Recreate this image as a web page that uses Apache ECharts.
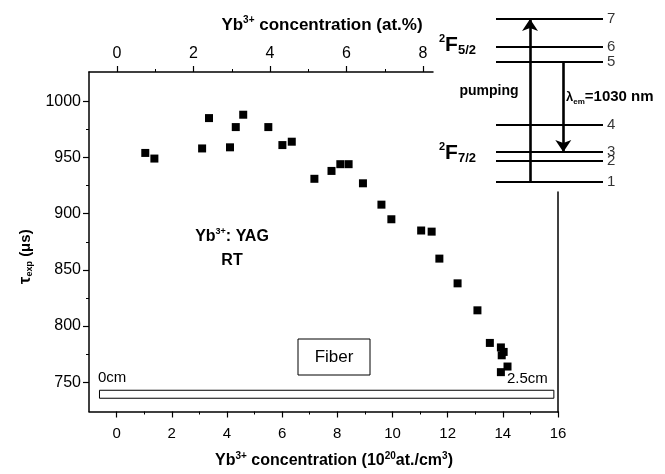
<!DOCTYPE html>
<html>
<head>
<meta charset="utf-8">
<script src="https://cdn.jsdelivr.net/npm/echarts@6/dist/echarts.min.js"></script>
<style>
html,body{margin:0;padding:0;background:#fff;}
#chart{width:665px;height:474px;}
</style>
</head>
<body>
<div id="chart"></div>
<script>
// ---- data ----
const concentration = [1.04, 1.37, 3.10, 3.35, 4.11, 4.32, 4.59, 5.50, 6.01, 6.35,
  7.17, 7.79, 8.11, 8.41, 8.93, 9.60, 9.96, 11.04, 11.42, 11.70,
  12.36, 13.08, 13.53, 13.93, 14.03, 13.96, 14.17, 13.93];
const lifetime = [954, 949, 958, 985, 959, 977, 988, 977, 961, 964,
  931, 938, 944, 944, 927, 908, 895, 885, 884, 860,
  838, 814, 785, 781, 777, 774, 764, 759];
const bottomTicks = [0, 2, 4, 6, 8, 10, 12, 14, 16];
const bottomMinor = [1, 3, 5, 7, 9, 11, 13, 15];
const topTicks = [0, 2, 4, 6, 8];
const topMinor = [1, 3, 5, 7];
const yTicks = [750, 800, 850, 900, 950, 1000];
const yMinor = [775, 825, 875, 925, 975];
const levelNames = ['1', '2', '3', '4', '5', '6', '7'];
const levelHeights = [0, 21, 30, 57, 120, 135, 163];   // schematic level positions
const fiberRod = [[-0.62, 742.9], [15.85, 735.8]];

const FONT = "'Liberation Sans', Arial, sans-serif";
const K = '#000';

const richTitle = {
  b: {fontFamily: FONT, fontWeight: 'bold', fontSize: 16, color: K, lineHeight: 19},
  sup: {fontFamily: FONT, fontWeight: 'bold', fontSize: 10, color: K, lineHeight: 10, verticalAlign: 'top'}
};
const richTitleTop = {
  b: {fontFamily: FONT, fontWeight: 'bold', fontSize: 17, color: K, lineHeight: 20},
  sup: {fontFamily: FONT, fontWeight: 'bold', fontSize: 10, color: K, lineHeight: 10, verticalAlign: 'top'}
};
const plain = v => String(v);

const chart = echarts.init(document.getElementById('chart'), null, {renderer: 'canvas'});

const pts = concentration.map((c, i) => [c, lifetime[i]]);

const option = {
  animation: false,
  backgroundColor: '#fff',
  grid: [
    {left: 89, right: 107, top: 72, bottom: 62},
    {left: 89, width: 344, top: 72, bottom: 62},
    {left: 496, width: 107, top: 19, height: 163},
    {left: 89, right: 107, top: 192, bottom: 62}
  ],
  xAxis: [
    {
      gridIndex: 0, type: 'value', position: 'bottom', min: -1, max: 16,
      axisLine: {show: true, onZero: false, lineStyle: {color: K, width: 1.5}},
      axisTick: {show: true, customValues: bottomTicks, length: 6, lineStyle: {color: K, width: 1.2}},
      axisLabel: {customValues: bottomTicks, formatter: plain, fontFamily: FONT, fontSize: 15, color: K, margin: 15},
      splitLine: {show: false},
      name: '{b|Yb}{sup|3+}{b| concentration (10}{sup|20}{b|at./cm}{sup|3}{b|)}',
      nameLocation: 'middle', nameGap: 40,
      nameTextStyle: {rich: richTitle, padding: [0, 0, 0, 21]}
    },
    {
      gridIndex: 0, type: 'value', position: 'bottom', min: -1, max: 16,
      axisLine: {show: false, onZero: false},
      axisTick: {show: true, customValues: bottomMinor, length: 3, lineStyle: {color: K, width: 1}},
      axisLabel: {show: false}, splitLine: {show: false}
    },
    {
      gridIndex: 1, type: 'value', position: 'top', min: -0.732, max: 8.261,
      axisLine: {show: true, onZero: false, lineStyle: {color: K, width: 1.5}},
      axisTick: {show: true, customValues: topTicks, length: 6, lineStyle: {color: K, width: 1.2}},
      axisLabel: {customValues: topTicks, formatter: plain, fontFamily: FONT, fontSize: 16, color: K, margin: 10},
      splitLine: {show: false},
      name: '{b|Yb}{sup|3+}{b| concentration (at.%)}',
      nameLocation: 'middle', nameGap: 37,
      nameTextStyle: {rich: richTitleTop, padding: [0, 0, 0, 122]}
    },
    {
      gridIndex: 1, type: 'value', position: 'top', min: -0.732, max: 8.261,
      axisLine: {show: false, onZero: false},
      axisTick: {show: true, customValues: topMinor, length: 3, lineStyle: {color: K, width: 1}},
      axisLabel: {show: false}, splitLine: {show: false}
    },
    {gridIndex: 2, type: 'value', min: 0, max: 1, show: false},
    {gridIndex: 3, type: 'value', min: 0, max: 1, show: false}
  ],
  yAxis: [
    {
      gridIndex: 0, type: 'value', position: 'left', min: 724, max: 1026,
      axisLine: {show: true, onZero: false, lineStyle: {color: K, width: 1.5}},
      axisTick: {show: true, customValues: yTicks, length: 6, lineStyle: {color: K, width: 1.2}},
      axisLabel: {customValues: yTicks, formatter: plain, fontFamily: FONT, fontSize: 16, color: K, margin: 8},
      splitLine: {show: false},
      name: '{t|τ}{sub|exp}{b| (μs)}',
      nameLocation: 'middle', nameGap: 54,
      nameTextStyle: {
        padding: [0, 30, 0, 0],
        rich: {
          t: {fontFamily: FONT, fontWeight: 'bold', fontSize: 17, color: K, lineHeight: 18},
          sub: {fontFamily: FONT, fontWeight: 'bold', fontSize: 9, color: K, lineHeight: 9, verticalAlign: 'bottom'},
          b: {fontFamily: FONT, fontWeight: 'bold', fontSize: 15, color: K, lineHeight: 18}
        }
      }
    },
    {
      gridIndex: 0, type: 'value', position: 'left', min: 724, max: 1026,
      axisLine: {show: false, onZero: false},
      axisTick: {show: true, customValues: yMinor, length: 3, lineStyle: {color: K, width: 1}},
      axisLabel: {show: false}, splitLine: {show: false}
    },
    {gridIndex: 1, type: 'value', min: 0, max: 1, show: false},
    {gridIndex: 2, type: 'value', min: 0, max: 163, show: false},
    {
      gridIndex: 3, type: 'value', position: 'right', min: 0, max: 1,
      axisLine: {show: true, onZero: false, lineStyle: {color: K, width: 1.5}},
      axisTick: {show: false}, axisLabel: {show: false}, splitLine: {show: false}
    }
  ],
  series: [
    {
      type: 'scatter', xAxisIndex: 0, yAxisIndex: 0,
      symbol: 'rect', symbolSize: 8,
      itemStyle: {color: K, opacity: 1},
      data: pts,
      markArea: {
        silent: true,
        itemStyle: {color: '#fff', borderColor: K, borderWidth: 1, opacity: 1},
        data: [[{coord: fiberRod[0]}, {coord: fiberRod[1]}]]
      },
      z: 5
    },
    {
      type: 'lines', coordinateSystem: 'cartesian2d', xAxisIndex: 4, yAxisIndex: 3,
      polyline: false, symbol: ['none', 'none'],
      lineStyle: {color: K, width: 2.2, opacity: 1},
      data: levelHeights.map(h => ({coords: [[0, h], [1, h]]}))
    },
    {
      type: 'scatter', xAxisIndex: 4, yAxisIndex: 3, symbolSize: 0,
      itemStyle: {color: 'rgba(0,0,0,0)'},
      label: {show: true, position: 'right', distance: 4, formatter: p => p.name,
        fontFamily: FONT, fontSize: 15, color: K},
      data: levelHeights.map((h, i) => ({name: levelNames[i], value: [1, h]}))
    },
    {
      type: 'lines', coordinateSystem: 'cartesian2d', xAxisIndex: 4, yAxisIndex: 3,
      polyline: false, symbol: ['none', 'arrow'], symbolSize: [9, 12],
      lineStyle: {color: K, width: 2.6, opacity: 1},
      data: [
        {coords: [[0.318, levelHeights[0]], [0.318, levelHeights[6]]]},
        {coords: [[0.629, levelHeights[4]], [0.629, levelHeights[2]]]}
      ]
    }
  ],
  graphic: [
    {type: 'text', style: {text: 'pumping', x: 489, y: 91, align: 'center', verticalAlign: 'middle',
      font: "bold 14px 'Liberation Sans', Arial", fill: K}},
    {type: 'text', style: {
      text: '{l|λ}{s|em}{b|=1030 nm}', x: 566, y: 97, align: 'left', verticalAlign: 'middle',
      rich: {
        l: {fontFamily: FONT, fontWeight: 'bold', fontSize: 13, fill: K, lineHeight: 16},
        s: {fontFamily: FONT, fontWeight: 'bold', fontSize: 8, fill: K, lineHeight: 8, verticalAlign: 'bottom'},
        b: {fontFamily: FONT, fontWeight: 'bold', fontSize: 15, fill: K, lineHeight: 17}
      }}},
    {type: 'text', style: {
      text: '{p|2}{f|F}{s|5/2}', x: 439, y: 45, align: 'left', verticalAlign: 'middle',
      rich: {
        p: {fontFamily: FONT, fontWeight: 'bold', fontSize: 11, fill: K, lineHeight: 11, verticalAlign: 'top'},
        f: {fontFamily: FONT, fontWeight: 'bold', fontSize: 21, fill: K, lineHeight: 24},
        s: {fontFamily: FONT, fontWeight: 'bold', fontSize: 13, fill: K, lineHeight: 13, verticalAlign: 'bottom'}
      }}},
    {type: 'text', style: {
      text: '{p|2}{f|F}{s|7/2}', x: 439, y: 153, align: 'left', verticalAlign: 'middle',
      rich: {
        p: {fontFamily: FONT, fontWeight: 'bold', fontSize: 11, fill: K, lineHeight: 11, verticalAlign: 'top'},
        f: {fontFamily: FONT, fontWeight: 'bold', fontSize: 21, fill: K, lineHeight: 24},
        s: {fontFamily: FONT, fontWeight: 'bold', fontSize: 13, fill: K, lineHeight: 13, verticalAlign: 'bottom'}
      }}},
    {type: 'text', style: {
      text: '{b|Yb}{sup|3+}{b|: YAG}', x: 232, y: 237, align: 'center', verticalAlign: 'middle',
      rich: {
        b: {fontFamily: FONT, fontWeight: 'bold', fontSize: 16, fill: K, lineHeight: 19},
        sup: {fontFamily: FONT, fontWeight: 'bold', fontSize: 9, fill: K, lineHeight: 9, verticalAlign: 'top'}
      }}},
    {type: 'text', style: {text: 'RT', x: 232, y: 261, align: 'center', verticalAlign: 'middle',
      font: "bold 16px 'Liberation Sans', Arial", fill: K}},
    {type: 'rect', shape: {x: 298, y: 339, width: 72, height: 36},
      style: {fill: '#fff', stroke: K, lineWidth: 1}},
    {type: 'text', style: {text: 'Fiber', x: 334, y: 357, align: 'center', verticalAlign: 'middle',
      font: "17px 'Liberation Sans', Arial", fill: K}},
    {type: 'text', style: {text: '0cm', x: 98, y: 378, align: 'left', verticalAlign: 'middle',
      font: "15px 'Liberation Sans', Arial", fill: K}},
    {type: 'text', style: {text: '2.5cm', x: 507, y: 379, align: 'left', verticalAlign: 'middle',
      font: "15px 'Liberation Sans', Arial", fill: K}}
  ]
};
chart.setOption(option);
</script>
</body>
</html>
